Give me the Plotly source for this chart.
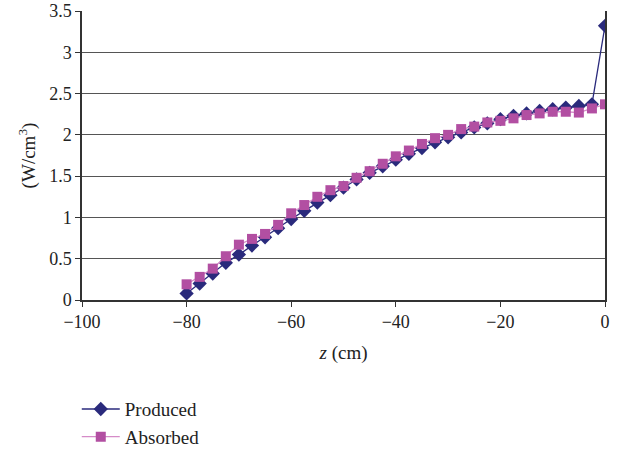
import plotly.graph_objects as go

z = [-80, -77.5, -75, -72.5, -70, -67.5, -65, -62.5, -60, -57.5, -55, -52.5, -50,
     -47.5, -45, -42.5, -40, -37.5, -35, -32.5, -30, -27.5, -25, -22.5, -20,
     -17.5, -15, -12.5, -10, -7.5, -5, -2.5, 0]

produced = [0.08, 0.20, 0.32, 0.45, 0.55, 0.66, 0.76, 0.87, 0.98, 1.08, 1.18, 1.27, 1.36,
            1.46, 1.54, 1.62, 1.70, 1.77, 1.84, 1.91, 1.97, 2.03, 2.09, 2.14, 2.19,
            2.23, 2.26, 2.29, 2.31, 2.33, 2.35, 2.37, 3.32]

absorbed = [0.19, 0.28, 0.38, 0.53, 0.67, 0.74, 0.80, 0.91, 1.05, 1.15, 1.25, 1.33, 1.38,
            1.48, 1.56, 1.65, 1.74, 1.81, 1.89, 1.96, 2.00, 2.07, 2.10, 2.15, 2.17,
            2.20, 2.24, 2.26, 2.28, 2.28, 2.27, 2.32, 2.37]

x_ticks = [-100, -80, -60, -40, -20, 0]
x_ticklabels = ["\u2212100", "\u221280", "\u221260", "\u221240", "\u221220", "0"]
y_ticks = [0, 0.5, 1, 1.5, 2, 2.5, 3, 3.5]
y_ticklabels = ["0", "0.5", "1", "1.5", "2", "2.5", "3", "3.5"]

font = "Liberation Serif, Times New Roman, serif"

fig = go.Figure()
fig.add_trace(go.Scatter(
    x=z, y=produced, name="Produced", mode="lines+markers",
    line=dict(color="#2A2A7C", width=1.3),
    marker=dict(symbol="diamond", size=11, color="#2A2A7C"),
))
fig.add_trace(go.Scatter(
    x=z, y=absorbed, name="Absorbed", mode="lines+markers",
    line=dict(color="#D58BC8", width=1.3),
    marker=dict(symbol="square", size=10, color="#B24FA2"),
))

fig.update_layout(
    width=621, height=449,
    margin=dict(l=82, r=16, t=11, b=149, autoexpand=False),
    paper_bgcolor="white", plot_bgcolor="white",
    font=dict(family=font, size=18, color="#222222"),
    showlegend=True,
    legend=dict(x=-0.01, y=-0.312, xanchor="left", yanchor="top",
                orientation="v", font=dict(size=19), tracegroupgap=0,
                itemwidth=38, bgcolor="rgba(0,0,0,0)"),
    xaxis=dict(
        range=[-100, 0], tickvals=x_ticks, ticktext=x_ticklabels,
        showgrid=False, zeroline=False, automargin=False,
        showline=True, linecolor="#333333", linewidth=1.5,
        ticks="outside", ticklen=5, tickcolor="#333333",
        title=dict(text="<i>z</i> (cm)", standoff=14, font=dict(size=19)),
    ),
    yaxis=dict(
        range=[0, 3.5], tickvals=y_ticks, ticktext=y_ticklabels,
        showgrid=True, gridcolor="#555555", gridwidth=1,
        zeroline=False, automargin=False,
        showline=True, linecolor="#333333", linewidth=1.5, mirror=True,
        ticks="outside", ticklen=5, tickcolor="#333333",
        title=dict(text="(W/cm<sup>3</sup>)", standoff=9, font=dict(size=19)),
    ),
)

fig.write_html("out.html", config={"displayModeBar": False},
               post_script="document.body.style.margin='0px';document.body.style.overflow='hidden';")
